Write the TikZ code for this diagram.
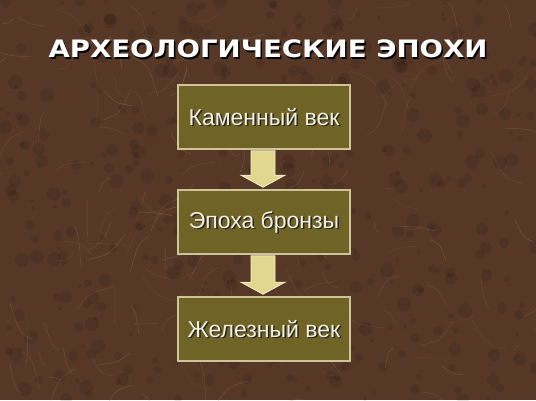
\documentclass[tikz,border=0pt]{standalone}
\usepackage{fontspec}
\setmainfont{Liberation Sans}
\newfontfamily\titlefont[FakeStretch=1.15]{DejaVu Sans}
\usetikzlibrary{calc}
\definecolor{bgbrown}{HTML}{573827}
\definecolor{vein}{HTML}{9A7A62}
\definecolor{boxfill}{HTML}{6F6326}
\definecolor{boxedge}{HTML}{CFC39A}
\definecolor{txt}{HTML}{F2EEDC}
\definecolor{arrowfill}{HTML}{E3D78F}
\definecolor{arrowedge}{HTML}{F4EFD0}
\tikzset{
  x=1pt, y=-1pt,
  eraBox/.style={draw=boxedge, line width=1.6pt, fill=boxfill, minimum width=172pt, minimum height=64pt, inner sep=0pt},
  eraTxt/.style={text=txt, font=\fontsize{23}{26}\selectfont},
  eraShadow/.style={text=black!85, font=\fontsize{23}{26}\selectfont},
  titleTxt/.style={text=white, font=\titlefont\fontsize{24}{28}\selectfont\bfseries},
  titleShadow/.style={text=black, font=\titlefont\fontsize{24}{28}\selectfont\bfseries},
  blockArrow/.style={fill=arrowfill, draw=arrowedge, line width=0.8pt}
}
\begin{document}
\begin{tikzpicture}
\useasboundingbox (0,0) rectangle (536,400);
\fill[bgbrown] (0,0) rectangle (536,400);
% marble texture
\pgfmathsetseed{7}
\foreach \i in {1,...,400}{
  \pgfmathsetmacro{\xa}{random(0,536)}
  \pgfmathsetmacro{\ya}{random(0,400)}
  \pgfmathsetmacro{\r}{random(2,7)}
  \fill[black, opacity=0.10] (\xa,\ya) circle (\r);
}
\foreach \i in {1,...,160}{
  \pgfmathsetmacro{\xa}{random(0,536)}
  \pgfmathsetmacro{\ya}{random(0,400)}
  \pgfmathsetmacro{\dx}{random(-40,40)}
  \pgfmathsetmacro{\dy}{random(-40,40)}
  \pgfmathsetmacro{\op}{random(15,40)/100}
  \draw[vein, opacity=\op, line width=0.5pt] (\xa,\ya) .. controls (\xa+\dx*0.6,\ya+\dy*0.2) .. (\xa+\dx,\ya+\dy);
}
% title
\node[titleShadow] (titlesh) at (269.5,50.5) {АРХЕОЛОГИЧЕСКИЕ ЭПОХИ};
\node[titleTxt] (title) at (268,49) {АРХЕОЛОГИЧЕСКИЕ ЭПОХИ};
% boxes
\node[eraBox] (b1) at (264,117) {};
\node[eraBox] (b2) at (264,222) {};
\node[eraBox] (b3) at (264,329) {};
\node[eraShadow] at ($(b1.center)+(1.5,1.5)$) {Каменный век};
\node[eraTxt] (t1) at (b1.center) {Каменный век};
\node[eraShadow] at ($(b2.center)+(1.5,1.5)$) {Эпоха бронзы};
\node[eraTxt] (t2) at (b2.center) {Эпоха бронзы};
\node[eraShadow] at ($(b3.center)+(1.5,1.5)$) {Железный век};
\node[eraTxt] (t3) at (b3.center) {Железный век};
% arrows
\coordinate (a1s) at ($(b1.south)+(-1,0)$);
\coordinate (a1e) at ($(b2.north)+(-1,0)$);
\coordinate (a2s) at ($(b2.south)+(-1,0)$);
\coordinate (a2e) at ($(b3.north)+(-1,0)$);
\path[blockArrow] ($(a1s)+(-12,1)$) -- ($(a1s)+(12,1)$) -- ($(a1e)+(12,-14)$) -- ($(a1e)+(22,-14)$) -- ($(a1e)+(0,-2)$) -- ($(a1e)+(-22,-14)$) -- ($(a1e)+(-12,-14)$) -- cycle;
\path[blockArrow] ($(a2s)+(-12,1)$) -- ($(a2s)+(12,1)$) -- ($(a2e)+(12,-14)$) -- ($(a2e)+(22,-14)$) -- ($(a2e)+(0,-2)$) -- ($(a2e)+(-22,-14)$) -- ($(a2e)+(-12,-14)$) -- cycle;
\end{tikzpicture}
\end{document}
